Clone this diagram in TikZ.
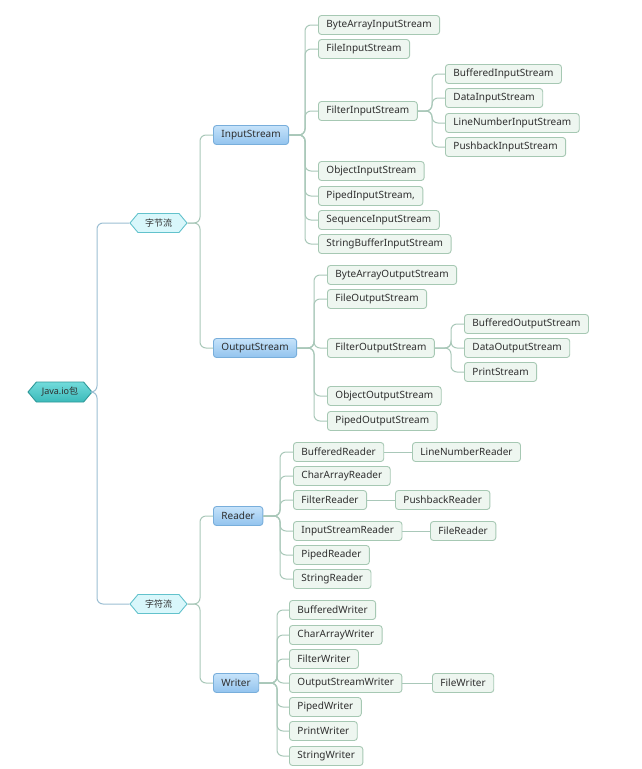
\documentclass[tikz,border=0pt]{standalone}
\usepackage{fontspec}
\setmainfont{Noto Sans}
\newfontfamily\cjk{Noto Sans CJK SC}
\usetikzlibrary{shapes.symbols}
\definecolor{leaffill}{HTML}{EEF6F0}
\definecolor{leafdraw}{HTML}{A6C8B3}
\definecolor{bluetop}{HTML}{C6E3FA}
\definecolor{bluebot}{HTML}{92C3EE}
\definecolor{bluedraw}{HTML}{78AEDB}
\definecolor{tealtop}{HTML}{72DBDB}
\definecolor{tealbot}{HTML}{3BBABA}
\definecolor{tealdraw}{HTML}{2E9898}
\definecolor{cyanfill}{HTML}{D9F7FB}
\definecolor{cyandraw}{HTML}{62C2CC}
\definecolor{conn}{HTML}{A9C8B9}
\definecolor{connroot}{HTML}{9CBFD3}
\definecolor{txt}{HTML}{2E2E2E}
\begin{document}
\begin{tikzpicture}[x=1pt,y=-1pt,
  base/.style={anchor=west, minimum height=19pt, inner xsep=8pt, inner ysep=0pt, text=txt, line width=0.9pt, font=\fontsize{10}{11}\selectfont},
  leaf/.style={base, draw=leafdraw, fill=leaffill, rounded corners=3pt},
  cls/.style={base, draw=bluedraw, top color=bluetop, bottom color=bluebot, rounded corners=3pt},
  hexroot/.style={signal, signal to=east and west, signal pointer angle=100, draw=tealdraw, top color=tealtop, bottom color=tealbot, minimum height=20pt, minimum width=64pt, inner xsep=4pt, inner ysep=0pt, line width=0.9pt, text=txt, font=\fontsize{9}{10}\selectfont},
  hexmid/.style={signal, signal to=east and west, signal pointer angle=100, draw=cyandraw, fill=cyanfill, minimum height=19pt, minimum width=57pt, inner xsep=4pt, inner ysep=0pt, line width=0.9pt, text=txt, font=\fontsize{9}{10}\selectfont},
  link/.style={draw=conn, line width=1pt, rounded corners=6pt},
  linkroot/.style={draw=connroot, line width=1pt, rounded corners=6pt}
]
\useasboundingbox (0,0) rectangle (642,769);
\fill[white] (0,0) rectangle (642,769);

% trunk coordinates
\coordinate (tr0) at (97,0);
\coordinate (tr1) at (200,0);
\coordinate (tris) at (305,0);
\coordinate (trfis) at (432,0);
\coordinate (tros) at (314,0);
\coordinate (trfos) at (451,0);
\coordinate (trrd) at (280,0);
\coordinate (trwr) at (277,0);

% root and level 1
\node[hexroot] (root) at (60,392) {Java.io{\cjk 包}};
\node[hexmid] (zj) at (158.5,223) {\cjk 字节流};
\node[hexmid] (zf) at (158.5,604) {\cjk 字符流};

% level 2
\node[cls] (is) at (213,135) {InputStream};
\node[cls] (os) at (213,348) {OutputStream};
\node[cls] (rd) at (213,516) {Reader};
\node[cls] (wr) at (213,683) {Writer};

% InputStream children
\node[leaf] (bais) at (318,25) {ByteArrayInputStream};
\node[leaf] (fis) at (318,49) {FileInputStream};
\node[leaf] (filis) at (318,111) {FilterInputStream};
\node[leaf] (ois) at (318,171) {ObjectInputStream};
\node[leaf] (pis) at (318,196) {PipedInputStream,};
\node[leaf] (sis) at (318,220) {SequenceInputStream};
\node[leaf] (sbis) at (318,244) {StringBufferInputStream};
\node[leaf] (bis) at (445,74) {BufferedInputStream};
\node[leaf] (dis) at (445,98) {DataInputStream};
\node[leaf] (lnis) at (445,123) {LineNumberInputStream};
\node[leaf] (pbis) at (445,147) {PushbackInputStream};

% OutputStream children
\node[leaf] (baos) at (327,275) {ByteArrayOutputStream};
\node[leaf] (fos) at (327,299) {FileOutputStream};
\node[leaf] (filos) at (327,348) {FilterOutputStream};
\node[leaf] (oos) at (327,396) {ObjectOutputStream};
\node[leaf] (pos) at (327,421) {PipedOutputStream};
\node[leaf] (bos) at (464,324) {BufferedOutputStream};
\node[leaf] (dos) at (464,348) {DataOutputStream};
\node[leaf] (ps) at (464,372) {PrintStream};

% Reader children
\node[leaf] (brd) at (293,452) {BufferedReader};
\node[leaf] (lnrd) at (412,452) {LineNumberReader};
\node[leaf] (card) at (293,476) {CharArrayReader};
\node[leaf] (frd) at (293,500) {FilterReader};
\node[leaf] (pbrd) at (395,500) {PushbackReader};
\node[leaf] (isrd) at (293,531) {InputStreamReader};
\node[leaf] (firel) at (430,531) {FileReader};
\node[leaf] (prd) at (293,555) {PipedReader};
\node[leaf] (srd) at (293,579) {StringReader};

% Writer children
\node[leaf] (bwr) at (289,610) {BufferedWriter};
\node[leaf] (cawr) at (289,635) {CharArrayWriter};
\node[leaf] (fwr) at (289,659) {FilterWriter};
\node[leaf] (oswr) at (289,683) {OutputStreamWriter};
\node[leaf] (fiwr) at (432,683) {FileWriter};
\node[leaf] (pwr) at (289,707) {PipedWriter};
\node[leaf] (prwr) at (289,731) {PrintWriter};
\node[leaf] (swr) at (289,756) {StringWriter};

% connectors
\foreach \c in {zj,zf} \draw[linkroot] (root.east) -- (root.east -| tr0) |- (\c.west);
\draw[link] (zj.east) -- (zj.east -| tr1) |- (is.west);
\draw[link] (zj.east) -- (zj.east -| tr1) |- (os.west);
\draw[link] (zf.east) -- (zf.east -| tr1) |- (rd.west);
\draw[link] (zf.east) -- (zf.east -| tr1) |- (wr.west);
\foreach \c in {bais,fis,filis,ois,pis,sis,sbis} \draw[link] (is.east) -- (is.east -| tris) |- (\c.west);
\foreach \c in {bis,dis,lnis,pbis} \draw[link] (filis.east) -- (filis.east -| trfis) |- (\c.west);
\foreach \c in {baos,fos,filos,oos,pos} \draw[link] (os.east) -- (os.east -| tros) |- (\c.west);
\foreach \c in {bos,dos,ps} \draw[link] (filos.east) -- (filos.east -| trfos) |- (\c.west);
\foreach \c in {brd,card,frd,isrd,prd,srd} \draw[link] (rd.east) -- (rd.east -| trrd) |- (\c.west);
\foreach \c in {bwr,cawr,fwr,oswr,pwr,prwr,swr} \draw[link] (wr.east) -- (wr.east -| trwr) |- (\c.west);
\draw[link] (brd) -- (lnrd);
\draw[link] (frd) -- (pbrd);
\draw[link] (isrd) -- (firel);
\draw[link] (oswr) -- (fiwr);
\end{tikzpicture}
\end{document}
